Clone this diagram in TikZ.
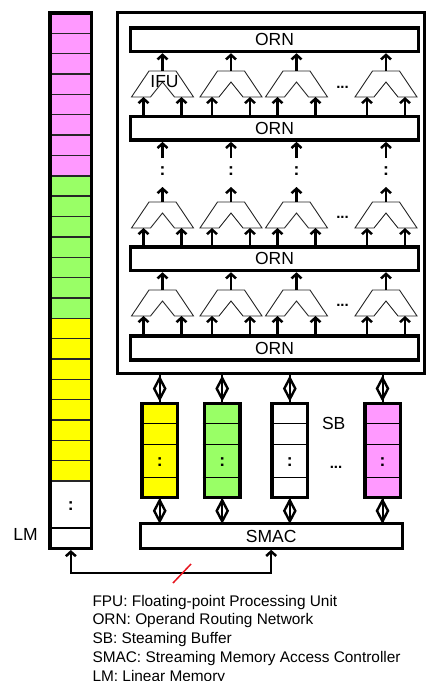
\documentclass[tikz,border=0pt]{standalone}
\usepackage{fontspec}
\setmainfont{Liberation Sans}
\usetikzlibrary{arrows.meta,shapes.geometric}
\definecolor{pk}{HTML}{FF99FF}
\definecolor{gr}{HTML}{99FF66}
\definecolor{yl}{HTML}{FFFF00}
\begin{document}
\begin{tikzpicture}[x=1pt,y=-1pt,
  lbl/.style={font=\fontsize{17.5}{21}\selectfont, inner sep=0pt},
  dots/.style={font=\fontsize{15}{18}\selectfont\bfseries, inner sep=0pt},
  ornbox/.style={draw, line width=3.5pt, fill=white, minimum width=288.4pt, minimum height=23.6pt, inner sep=0pt, lbl},
  sbbox/.style={draw, line width=3.5pt, minimum width=35.5pt, minimum height=94pt, inner sep=0pt},
  arr/.style={line width=2.5pt, -{Straight Barb[length=4.5pt,width=10pt]}},
  darr/.style={line width=2.5pt, {Straight Barb[length=4.5pt,width=10pt]}-{Straight Barb[length=4.5pt,width=10pt]}},
  ifu/.style={line width=0.9pt, draw=black!85, line join=miter},
  cellline/.style={line width=1.4pt, draw=black!85},
  dline/.style={line width=2pt},
  dia/.style={diamond, draw, line width=2.4pt, minimum width=12pt, minimum height=22pt, inner sep=0pt}
]
\useasboundingbox (0,0) rectangle (429,681);

% ---------- LM column ----------
\foreach \i in {0,...,7}  \fill[pk] (50,13+20.35*\i) rectangle (91.7,13+20.35*\i+20.35);
\foreach \i in {8,...,14} \fill[gr] (50,13+20.35*\i) rectangle (91.7,13+20.35*\i+20.35);
\foreach \i in {15,...,22} \fill[yl] (50,13+20.35*\i) rectangle (91.7,13+20.35*\i+20.35);
\foreach \i in {1,...,23} \draw[cellline] (50,13+20.35*\i) -- (91.7,13+20.35*\i);
\draw[cellline, draw=black] (50,528) -- (91.7,528);
\node[draw, line width=3.5pt, minimum width=41.7pt, minimum height=535.3pt, inner sep=0pt] (lm) at (70.85,280.65) {};
\node[lbl, font=\fontsize{17.5}{21}\selectfont\bfseries] (lmcolon) at (70.85,506) {:};
\node[lbl] (lmlbl) at (25.5,534) {LM};

% ---------- PE array box ----------
\node[draw, line width=3pt, minimum width=307.2pt, minimum height=361.2pt, inner sep=0pt] (pe) at (270.9,193.1) {};

\node[ornbox] (orn1) at (274.5,39.7) {ORN};
\node[ornbox] (orn2) at (274.5,128.3) {ORN};
\node[ornbox] (orn3) at (274.5,258.7) {ORN};
\node[ornbox] (orn4) at (274.5,348) {ORN};

% ---------- IFUs ----------
\foreach \r/\yt in {1/71,2/202,3/290} {
  \foreach \c/\cx in {1/162.5,2/231,3/296.5,4/386} {
    \draw[ifu] (\cx-31,\yt+26) -- (\cx-13.5,\yt) -- (\cx+13.5,\yt) -- (\cx+31,\yt+26)
      -- (\cx+12,\yt+26) -- (\cx,\yt+11) -- (\cx-12,\yt+26) -- cycle;
    \coordinate (f-\r-\c-t) at (\cx,\yt);
    \coordinate (f-\r-\c-l) at (\cx-19,\yt+26);
    \coordinate (f-\r-\c-r) at (\cx+19,\yt+26);
  }
}
\node[lbl] (ifulbl) at (164.5,82) {IFU};

% row dots
\node[dots, anchor=base] (hd1) at (342.5,88) {...};
\node[dots, anchor=base] (hd2) at (342.5,218) {...};
\node[dots, anchor=base] (hd3) at (342.5,306) {...};

% arrows row 1
\foreach \c in {1,2,3,4} {
  \draw[arr] (f-1-\c-l |- orn2.north) -- (f-1-\c-l);
  \draw[arr] (f-1-\c-r |- orn2.north) -- (f-1-\c-r);
  \draw[arr] (f-1-\c-t) -- (f-1-\c-t |- orn1.south);
}
% arrows row 2
\foreach \c in {1,2,3,4} {
  \draw[arr] (f-2-\c-l |- orn3.north) -- (f-2-\c-l);
  \draw[arr] (f-2-\c-r |- orn3.north) -- (f-2-\c-r);
  \coordinate (ub-\c) at (f-2-\c-t |- 0,158);
  \draw[arr] (f-2-\c-t) -- (f-2-\c-t |- 0,187);
  \draw[arr] (ub-\c) -- (ub-\c |- orn2.south);
  \node[lbl, font=\fontsize{17.5}{21}\selectfont\bfseries] (vc-\c) at (f-2-\c-t |- 0,171) {:};
}
% arrows row 3
\foreach \c in {1,2,3,4} {
  \draw[arr] (f-3-\c-l |- orn4.north) -- (f-3-\c-l);
  \draw[arr] (f-3-\c-r |- orn4.north) -- (f-3-\c-r);
  \draw[arr] (f-3-\c-t) -- (f-3-\c-t |- orn3.south);
}

% ---------- Streaming buffers ----------
\foreach \n/\x/\col in {1/159.7/yl,2/222.2/gr,3/289.8/white,4/382.5/pk} {
  \node[sbbox, fill=\col] (sb\n) at (\x,450.7) {};
  \draw[cellline, draw=black] (sb\n.west |- 0,423.3) -- (sb\n.east |- 0,423.3);
  \draw[cellline, draw=black] (sb\n.west |- 0,444.3) -- (sb\n.east |- 0,444.3);
  \draw[cellline, draw=black] (sb\n.west |- 0,477.3) -- (sb\n.east |- 0,477.3);
  \node[lbl, font=\fontsize{17.5}{21}\selectfont\bfseries] (sbc\n) at (\x,462) {:};
}
\node[lbl] (sblbl) at (333.7,423.5) {SB};
\node[dots, anchor=base] (sbdots) at (336,468) {...};

% ---------- SMAC ----------
\node[draw, line width=3pt, minimum width=261.7pt, minimum height=24.6pt, inner sep=0pt, lbl] (smac) at (271.2,536) {SMAC};

% diamond connectors
\foreach \n in {1,2,3,4} {
  \draw[dline] (sb\n.north |- pe.south) -- node[dia] (dt\n) {} (sb\n.north);
  \draw[dline] (sb\n.south) -- node[dia] (db\n) {} (sb\n.south |- smac.north);
}

% LM <-> SMAC
\draw[darr] (lm.south) -- ++(0,23) -| (smac.south);
\draw[line width=1.5pt, draw={rgb,255:red,230;green,20;blue,30}] (173,583) -- (191,564);

% legend (base anchor = baseline of the last line)
\node[anchor=base west, align=left, inner sep=0pt, font=\fontsize{15.4}{18.75}\selectfont] (legend) at (92.3,681)
 {FPU: Floating-point Processing Unit\\ORN: Operand Routing Network\\SB: Steaming Buffer\\SMAC: Streaming Memory Access Controller\\LM: Linear Memory};
\end{tikzpicture}
\end{document}
